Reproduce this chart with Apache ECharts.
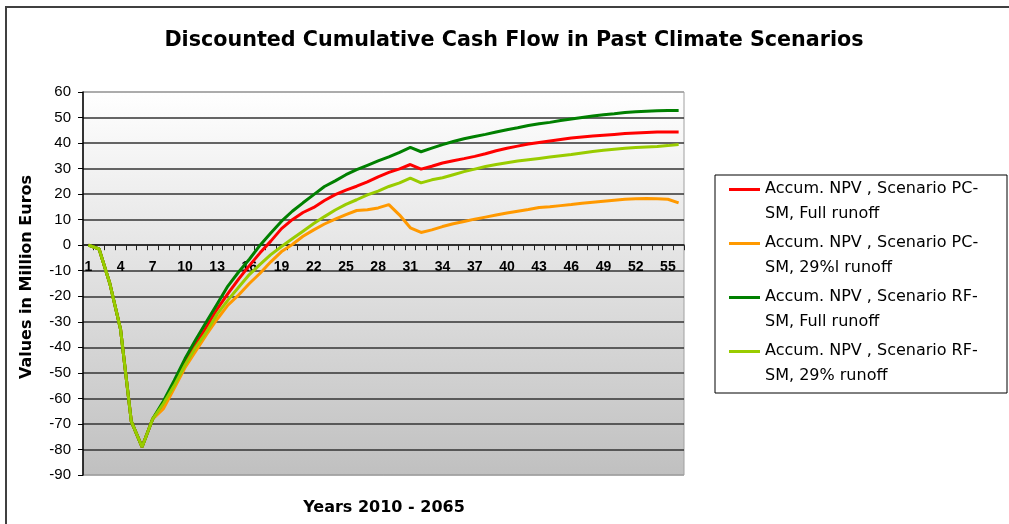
<!DOCTYPE html>
<html>
<head>
<meta charset="utf-8">
<script src="https://cdn.jsdelivr.net/npm/echarts@6/dist/echarts.min.js"></script>
<style>
  html, body { margin: 0; padding: 0; background: #fff; overflow: hidden; }
  #chart { width: 1009px; height: 524px; }
</style>
</head>
<body>
<div id="chart"></div>
<script>
// Years 1..56 (2010 - 2065)
const years = Array.from({ length: 56 }, (_, i) => String(i + 1));

const seriesNames = [
  'Accum. NPV , Scenario PC-\nSM, Full runoff',
  'Accum. NPV , Scenario PC-\nSM, 29%l runoff',
  'Accum. NPV , Scenario RF-\nSM, Full runoff',
  'Accum. NPV , Scenario RF-\nSM, 29% runoff'
];

// Discounted cumulative cash flow, million euros
const pcFull = [0, -1.5, -15, -33, -69, -79, -68, -62, -54, -46, -39, -32, -25, -19, -13.3, -8,
  -3, 1.6, 6.5, 10, 12.8, 14.8, 17.5, 19.8, 21.6, 23.1, 24.8, 26.8, 28.5, 29.9, 31.6, 29.8,
  30.9, 32.2, 33.1, 33.9, 34.8, 35.8, 37, 38, 38.8, 39.6, 40.2, 40.8, 41.4, 42, 42.4, 42.8,
  43.1, 43.4, 43.7, 43.9, 44.1, 44.3, 44.3, 44.3];
const pc29 = [0, -1.5, -15, -33, -69, -79, -68, -64, -56, -48, -41.5, -35, -29, -23.5, -19.5, -15,
  -11, -6.5, -2.5, 0.3, 3.5, 6, 8.3, 10.2, 12, 13.6, 13.9, 14.6, 15.9, 11.8, 6.8, 5,
  6, 7.3, 8.4, 9.3, 10.2, 11, 11.8, 12.6, 13.3, 14, 14.8, 15.1, 15.5, 15.9, 16.4, 16.8,
  17.2, 17.6, 18, 18.2, 18.3, 18.2, 18, 16.6];
const rfFull = [0, -1.5, -15, -33, -69, -79, -68, -61, -53, -44.5, -37, -30, -23, -16, -10.5, -5.5,
  0, 4.8, 9.4, 13.3, 16.6, 19.8, 23, 25.2, 27.6, 29.6, 31.3, 33, 34.6, 36.4, 38.3, 36.6,
  38, 39.4, 40.6, 41.7, 42.6, 43.4, 44.3, 45.2, 46, 46.9, 47.6, 48.1, 48.8, 49.4, 50, 50.6,
  51.1, 51.5, 52, 52.3, 52.5, 52.7, 52.8, 52.8];
const rf29 = [0, -1.5, -15, -33, -69, -79, -68, -62, -55, -47, -40, -34, -27, -21.5, -16.5, -11.5,
  -7.5, -3.7, -0.5, 2.5, 5.5, 8.5, 11.2, 13.8, 16, 17.8, 19.7, 21.2, 23, 24.4, 26.3, 24.4,
  25.6, 26.4, 27.6, 28.8, 29.8, 30.8, 31.6, 32.3, 33, 33.5, 34, 34.5, 35, 35.5, 36.1, 36.7,
  37.2, 37.6, 38, 38.3, 38.5, 38.7, 39, 39.4];

const seriesData = [pcFull, pc29, rfFull, rf29];
const seriesColors = ['#ff0000', '#ff9900', '#008000', '#99cc00'];

const yMin = -90, yMax = 60, yStep = 10;
const SANS = '"Liberation Sans", Arial, sans-serif';
const WIDE = '"DejaVu Sans", Verdana, sans-serif';

// plot box
const W = 1009, H = 524;
const gridLeft = 83, gridRight = 325, gridTop = 92, gridBottom = 49;
const plotH = H - gridTop - gridBottom;
// category axis sits on the zero line
const zeroFromBottom = plotH * (0 - yMin) / (yMax - yMin);

// split lines: outermost ones act as the light plot border, inner ones are dark
const nTicks = (yMax - yMin) / yStep + 1;
const splitColors = Array.from({ length: nTicks }, (_, i) =>
  (i === 0 || i === nTicks - 1) ? '#a0a0a0' : '#333333');

const chart = echarts.init(document.getElementById('chart'), null, { renderer: 'canvas' });

chart.setOption({
  animation: false,
  backgroundColor: '#ffffff',
  textStyle: { fontFamily: SANS },
  title: {
    text: 'Discounted Cumulative Cash Flow in Past Climate Scenarios',
    left: 509,
    textAlign: 'center',
    top: 25,
    textStyle: { fontSize: 20.7, fontWeight: 'bold', color: '#000', fontFamily: WIDE }
  },
  graphic: [
    {
      // chart frame (left and top edges fall inside the view)
      type: 'polyline',
      shape: { points: [[6, H + 10], [6, 7], [W + 10, 7]] },
      style: { fill: 'none', stroke: '#404040', lineWidth: 2 },
      silent: true
    },
    {
      type: 'text',
      x: 27, y: 277,
      rotation: Math.PI / 2,
      style: {
        text: 'Values in Million Euros',
        fill: '#000',
        font: 'bold 16px ' + WIDE,
        align: 'center',
        verticalAlign: 'middle'
      }
    },
    {
      type: 'text',
      x: 384, y: 508,
      style: {
        text: 'Years 2010 - 2065',
        fill: '#000',
        font: 'bold 16px ' + WIDE,
        align: 'center',
        verticalAlign: 'middle'
      }
    }
  ],
  legend: {
    orient: 'vertical',
    left: 715,
    top: 175,
    padding: [2, 6, 5, 14],
    itemGap: 5,
    itemWidth: 31,
    itemHeight: 49,
    borderColor: '#000',
    borderWidth: 1,
    backgroundColor: '#fff',
    icon: 'path://M0,0M0,11H31V14H0ZM0,49',
    textStyle: { fontSize: 16, lineHeight: 24.5, color: '#000', fontFamily: WIDE, width: 236 },
    data: seriesNames
  },
  grid: {
    left: gridLeft, right: gridRight, top: gridTop, bottom: gridBottom,
    show: true,
    borderColor: '#a0a0a0',
    borderWidth: 1,
    backgroundColor: new echarts.graphic.LinearGradient(0, 0, 0, 1, [
      { offset: 0, color: '#ffffff' },
      { offset: 1, color: '#c0c0c0' }
    ])
  },
  xAxis: {
    type: 'category',
    data: years,
    boundaryGap: true,
    offset: -zeroFromBottom,
    axisLine: { onZero: false, lineStyle: { color: '#222', width: 1.5 } },
    axisTick: { show: true, interval: 0, length: 5, lineStyle: { color: '#222' } },
    axisLabel: { interval: 2, margin: 15, fontSize: 14, fontWeight: 'bold', color: '#000', fontFamily: SANS },
    splitLine: { show: false }
  },
  yAxis: {
    type: 'value',
    min: yMin, max: yMax, interval: yStep,
    axisLine: { show: true, lineStyle: { color: '#000', width: 1.5 } },
    axisTick: { show: true, length: 5, lineStyle: { color: '#000' } },
    axisLabel: { margin: 12, fontSize: 15, color: '#000', fontFamily: SANS },
    splitLine: { show: true, lineStyle: { color: splitColors, width: 1.5 } }
  },
  series: seriesData.map((d, i) => ({
    name: seriesNames[i],
    type: 'line',
    data: d,
    showSymbol: false,
    symbol: 'none',
    color: seriesColors[i],
    itemStyle: { color: seriesColors[i] },
    lineStyle: { color: seriesColors[i], width: 3 },
    z: 2 + i
  }))
});
</script>
</body>
</html>
